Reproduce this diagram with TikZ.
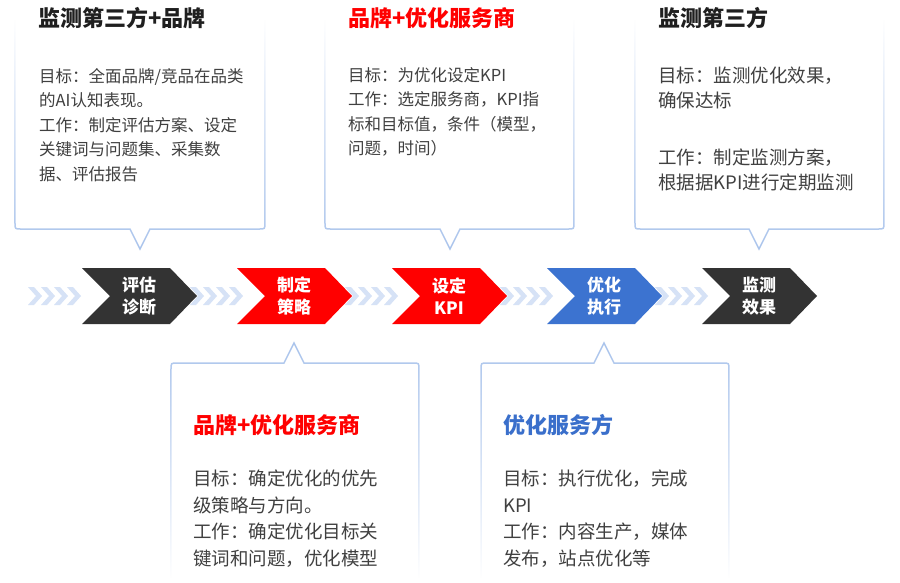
\documentclass[tikz,border=0pt]{standalone}
\usepackage{fontspec}
\setmainfont{Noto Sans CJK SC}
\usetikzlibrary{fadings}
\definecolor{chdark}{HTML}{333333}
\definecolor{chred}{HTML}{FF0000}
\definecolor{chblue}{HTML}{3C73D0}
\definecolor{arrowlight}{HTML}{D6E2F6}
\definecolor{boxline}{HTML}{AAC4EC}
\definecolor{bodytext}{HTML}{404040}
\definecolor{titledark}{HTML}{1F1F1F}
\definecolor{titleblue}{HTML}{3A6FCB}
\tikzfading[name=fadeup, top color=transparent!100, middle color=transparent!0, bottom color=transparent!0]
\tikzfading[name=fadedown, top color=transparent!0, middle color=transparent!0, bottom color=transparent!100]
\newcommand\bigchev[2]{\fill[#2] (#1,268) -- (#1+88,268) -- (#1+115,296) -- (#1+88,324) -- (#1,324) -- (#1+28,296) -- cycle;}
\newcommand\smallchevs[1]{\foreach \k in {0,1,2,3}{\fill[arrowlight] (#1+13*\k,287) -- (#1+13*\k+6,287) -- (#1+13*\k+14,296) -- (#1+13*\k+6,305) -- (#1+13*\k,305) -- (#1+13*\k+8,296) -- cycle;}}
\tikzset{
  chtext/.style={text=white, font=\bfseries\fontsize{17}{22}\selectfont, align=center, inner sep=0pt},
  boxtitle/.style={anchor=west, inner sep=0pt, font=\bfseries\fontsize{22}{26}\selectfont},
  bodysmall/.style={anchor=north west, inner sep=0pt, align=left, text=bodytext, font=\fontsize{16.5}{24.5}\selectfont},
  bodymid/.style={anchor=north west, inner sep=0pt, align=left, text=bodytext, font=\fontsize{18.5}{25}\selectfont},
  bodylarge/.style={anchor=north west, inner sep=0pt, align=left, text=bodytext, font=\fontsize{18.5}{26.5}\selectfont},
  boxborder/.style={draw=boxline, line width=1.5pt}
}
\begin{document}
\begin{tikzpicture}[x=1pt,y=-1pt]
\useasboundingbox (0,0) rectangle (900,582);
\fill[white] (0,0) rectangle (900,582);

% top boxes
\draw[boxborder, path fading=fadeup] (15,20) -- (15,223) .. controls (15,229) .. (21,229) -- (130,229) -- (140,249) -- (150,229) -- (259,229) .. controls (265,229) .. (265,223) -- (265,20);
\draw[boxborder, path fading=fadeup] (325,20) -- (325,223) .. controls (325,229) .. (331,229) -- (440,229) -- (450,249) -- (460,229) -- (568,229) .. controls (574,229) .. (574,223) -- (574,20);
\draw[boxborder, path fading=fadeup] (635,20) -- (635,223) .. controls (635,229) .. (641,229) -- (749,229) -- (759,249) -- (769,229) -- (878,229) .. controls (884,229) .. (884,223) -- (884,20);

% bottom boxes
\draw[boxborder, path fading=fadedown] (171,578) -- (171,369) .. controls (171,363) .. (177,363) -- (284,363) -- (294,343) -- (304,363) -- (413,363) .. controls (419,363) .. (419,369) -- (419,578);
\draw[boxborder, path fading=fadedown] (481,578) -- (481,369) .. controls (481,363) .. (487,363) -- (594,363) -- (604,343) -- (614,363) -- (723,363) .. controls (729,363) .. (729,369) -- (729,578);

% small chevrons
\smallchevs{28}
\smallchevs{190}
\smallchevs{345}
\smallchevs{500}
\smallchevs{655}

% big chevrons
\bigchev{82}{chdark}
\bigchev{237}{chred}
\bigchev{392}{chred}
\bigchev{547}{chblue}
\bigchev{702}{chdark}

\node[chtext] (c1) at (139,296) {评估\\诊断};
\node[chtext] (c2) at (294,296) {制定\\策略};
\node[chtext] (c3) at (449,296) {设定\\KPI};
\node[chtext] (c4) at (604,296) {优化\\执行};
\node[chtext] (c5) at (759,296) {监测\\效果};

% titles
\node[boxtitle, text=titledark] (t1) at (38,18) {监测第三方+品牌};
\node[boxtitle, text=chred] (t2) at (348,18) {品牌+优化服务商};
\node[boxtitle, text=titledark] (t3) at (658,18) {监测第三方};
\node[boxtitle, text=chred] (t4) at (193,425) {品牌+优化服务商};
\node[boxtitle, text=titleblue] (t5) at (503,425) {优化服务方};

% bodies
\node[bodysmall] (b1) at (39,68) {目标：全面品牌/竞品在品类\\的AI认知表现。\\工作：制定评估方案、设定\\关键词与问题集、采集数\\据、评估报告};
\node[bodysmall] (b2) at (348,67) {目标：为优化设定KPI\\工作：选定服务商，KPI指\\标和目标值，条件（模型，\\问题，时间）};
\node[bodymid] (b3) at (658,67) {目标：监测优化效果，\\确保达标\\[32pt]工作：制定监测方案，\\根据据KPI进行定期监测};
\node[bodylarge] (b4) at (193,470) {目标：确定优化的优先\\级策略与方向。\\工作：确定优化目标关\\键词和问题，优化模型};
\node[bodylarge] (b5) at (503,470) {目标：执行优化，完成\\KPI\\工作：内容生产，媒体\\发布，站点优化等};
\end{tikzpicture}
\end{document}
